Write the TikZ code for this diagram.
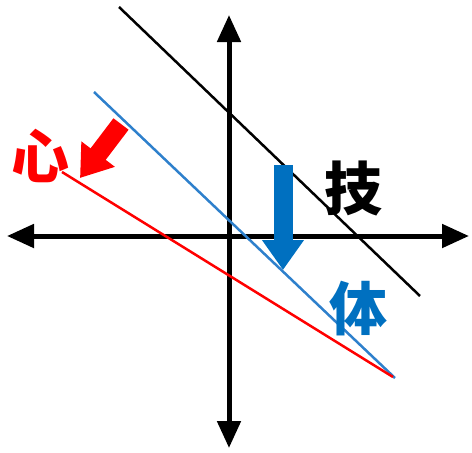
\documentclass[tikz,border=0pt]{standalone}
\usepackage{fontspec}
\newfontfamily\cjk{Noto Sans CJK SC}
\usepackage{xcolor}
\usetikzlibrary{arrows.meta}
\definecolor{xinred}{HTML}{FF0000}
\definecolor{tiblue}{HTML}{0070C0}
\definecolor{tiline}{HTML}{2E80CC}

\begin{document}
\begin{tikzpicture}[
  x=1pt,y=-1pt,
  axis/.style={line width=5pt,{Triangle[width=23pt,length=27pt]}-{Triangle[width=23pt,length=27pt]}},
  curve/.style={line width=2.5pt},
  fat/.style={line width=19pt,-{Triangle[width=40pt,length=30pt]}},
  word/.style={font=\cjk\bfseries\fontsize{58}{58}\selectfont,inner sep=0pt}
]
\useasboundingbox (0,0) rectangle (472,453);
% axes
\coordinate (xl) at (7,236);
\coordinate (xr) at (469,236);
\coordinate (yt) at (229,15);
\coordinate (yb) at (229,448);
\draw[axis] (xl) -- (xr);
\draw[axis] (yt) -- (yb);
% lines
\coordinate (gi1) at (119,7);
\coordinate (gi2) at (420,296);
\coordinate (ti1) at (94,92);
\coordinate (ti2) at (395,378);
\coordinate (xin1) at (62,172);
\coordinate (xin2) at (393,377);
\draw[curve] (gi1) -- (gi2);
\draw[curve,tiline] (ti1) -- (ti2);
\draw[curve,xinred] (xin1) -- (xin2);
% shifts
\coordinate (xa) at (121,124);
\coordinate (xb) at (80,178);
\coordinate (ta) at (283,165);
\coordinate (tb) at (283,270);
\draw[fat,xinred] (xa) -- (xb);
\draw[fat,tiblue] (ta) -- (tb);
% labels
\node[word,xinred] (xin) at (40,156) {心};
\node[word,black] (gi) at (353,188) {技};
\node[word,tiblue] (ti) at (358,309) {体};
\end{tikzpicture}
\end{document}
